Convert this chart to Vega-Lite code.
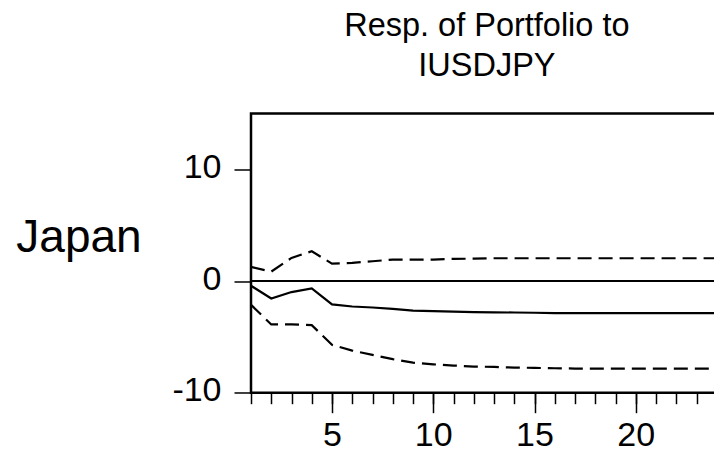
{
  "$schema": "https://vega.github.io/schema/vega-lite/v6.json",
  "autosize": {"type": "none"},
  "padding": {"left": 251, "top": 113.5, "right": 0, "bottom": 60},
  "width": 465.75,
  "height": 279.2,
  "background": "white",
  "view": {"stroke": "black", "strokeWidth": 2.5},
  "config": {
    "font": "Liberation Sans",
    "axis": {"grid": false, "domain": false, "tickColor": "black", "labelColor": "black", "titleColor": "black", "labelFont": "Liberation Sans", "titleFont": "Liberation Sans"}
  },
  "title": {
    "text": ["Resp. of Portfolio to", "IUSDJPY"],
    "fontSize": 32.5,
    "fontWeight": "normal",
    "font": "Liberation Sans",
    "color": "black",
    "lineHeight": 39.5,
    "anchor": "middle",
    "frame": "group",
    "baseline": "bottom",
    "offset": 31,
    "dx": 3,
    "dy": 33
  },
  "data": {"values": [
    {"period": 1, "resp": -0.42, "upper": 1.26, "lower": -2.13},
    {"period": 2, "resp": -1.56, "upper": 0.84, "lower": -3.89},
    {"period": 3, "resp": -0.99, "upper": 2.07, "lower": -3.89},
    {"period": 4, "resp": -0.66, "upper": 2.66, "lower": -3.95},
    {"period": 5, "resp": -2.10, "upper": 1.56, "lower": -5.72},
    {"period": 6, "resp": -2.28, "upper": 1.62, "lower": -6.23},
    {"period": 7, "resp": -2.37, "upper": 1.77, "lower": -6.62},
    {"period": 8, "resp": -2.49, "upper": 1.92, "lower": -7.00},
    {"period": 9, "resp": -2.66, "upper": 1.92, "lower": -7.31},
    {"period": 10, "resp": -2.69, "upper": 1.92, "lower": -7.46},
    {"period": 11, "resp": -2.75, "upper": 1.98, "lower": -7.57},
    {"period": 12, "resp": -2.78, "upper": 2.00, "lower": -7.66},
    {"period": 13, "resp": -2.81, "upper": 2.04, "lower": -7.69},
    {"period": 14, "resp": -2.82, "upper": 2.04, "lower": -7.75},
    {"period": 15, "resp": -2.84, "upper": 2.04, "lower": -7.78},
    {"period": 16, "resp": -2.87, "upper": 2.04, "lower": -7.81},
    {"period": 17, "resp": -2.87, "upper": 2.04, "lower": -7.84},
    {"period": 18, "resp": -2.87, "upper": 2.04, "lower": -7.84},
    {"period": 19, "resp": -2.87, "upper": 2.04, "lower": -7.84},
    {"period": 20, "resp": -2.87, "upper": 2.04, "lower": -7.84},
    {"period": 21, "resp": -2.87, "upper": 2.04, "lower": -7.84},
    {"period": 22, "resp": -2.87, "upper": 2.04, "lower": -7.84},
    {"period": 23, "resp": -2.87, "upper": 2.04, "lower": -7.84},
    {"period": 24, "resp": -2.87, "upper": 2.04, "lower": -7.84}
  ]},
  "resolve": {"axis": {"x": "independent"}},
  "layer": [
    {
      "mark": {"type": "rule", "color": "black", "strokeWidth": 1},
      "encoding": {
        "y": {"datum": 0, "type": "quantitative", "scale": {"domain": [-10, 15], "nice": false, "zero": false}}
      }
    },
    {
      "mark": {"type": "line", "color": "black", "strokeWidth": 2.2},
      "encoding": {
        "x": {"field": "period", "type": "quantitative", "scale": {"domain": [1, 24], "nice": false, "zero": false},
          "axis": {"orient": "bottom", "title": null, "values": [5, 10, 15, 20], "tickSize": 20, "tickWidth": 1.5, "labelFontSize": 34, "labelPadding": 6, "labelFlush": false}},
        "y": {"field": "resp", "type": "quantitative", "scale": {"domain": [-10, 15], "nice": false, "zero": false},
          "axis": {"title": "Japan", "titleAngle": 0, "titleFontSize": 46, "titleFontWeight": "normal", "titleAlign": "center", "titleBaseline": "alphabetic", "titleX": -172.5, "titleY": 138.5,
            "values": [-10, 0, 10], "labelExpr": "'' + datum.value", "tickSize": 17, "tickWidth": 1.5, "labelFontSize": 34, "labelPadding": 13, "labelBaseline": "middle", "labelOffset": -2}}
      }
    },
    {
      "mark": {"type": "line", "color": "black", "strokeWidth": 2.2, "strokeDash": [14, 7]},
      "encoding": {
        "x": {"field": "period", "type": "quantitative", "scale": {"domain": [1, 24], "nice": false, "zero": false},
          "axis": {"orient": "bottom", "title": null, "values": [1,2,3,4,5,6,7,8,9,10,11,12,13,14,15,16,17,18,19,20,21,22,23,24], "tickSize": 11, "tickWidth": 1.5, "labels": false}},
        "y": {"field": "upper", "type": "quantitative"}
      }
    },
    {
      "mark": {"type": "line", "color": "black", "strokeWidth": 2.2, "strokeDash": [14, 7]},
      "encoding": {
        "x": {"field": "period", "type": "quantitative", "axis": null},
        "y": {"field": "lower", "type": "quantitative"}
      }
    }
  ]
}
